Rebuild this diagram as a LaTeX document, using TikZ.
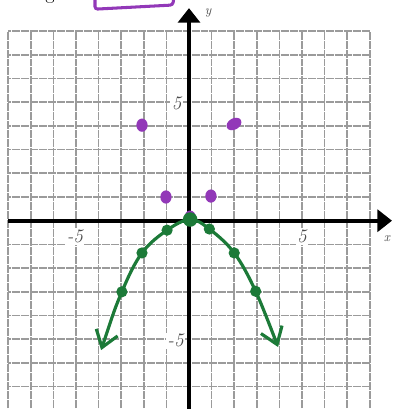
\documentclass[tikz,border=0pt]{standalone}
\usepackage{tikz}
\usetikzlibrary{arrows.meta,shapes.geometric}
\definecolor{HandPurple}{RGB}{146,56,184}
\definecolor{HandGreen}{RGB}{28,122,56}
\definecolor{GridGray}{RGB}{155,155,155}

\begin{document}
\begin{tikzpicture}[
    x=0.6cm, y=0.6292cm,
    gridline/.style={draw=GridGray, line width=1.3pt, dash pattern=on 0.45pt off 0.4pt},
    axis/.style={line width=3pt, -{Triangle[width=16.5pt, length=11pt]}},
    tick/.style={fill=white, inner sep=1pt, font=\Large\itshape, text=black!70},
    axlabel/.style={font=\itshape, text=black!70},
    pdot/.style={ellipse, fill=HandPurple, minimum width=8.5pt, minimum height=10pt, inner sep=0pt},
    gdot/.style={circle, fill=HandGreen, minimum size=8.5pt, inner sep=0pt},
    curve/.style={draw=HandGreen, line width=2.4pt, line cap=round, {Straight Barb[length=12pt, width=17pt]}-{Straight Barb[length=12pt, width=17pt]}}
]
    \useasboundingbox (-8.363,-7.945) rectangle (8.982,9.312);
    \clip (-8.363,-7.945) rectangle (8.982,9.312);

    % cut off heading
    \node[font=\Large, anchor=base] (gtext) at (-6.15,9.354) {g};
    \draw[HandPurple, line width=2.3pt, rounded corners=2pt] (-4.16,9.7) -- (-4.16,8.925) -- (-0.72,9.10) -- (-0.62,9.7);

    \draw[gridline, step=1] (-8,-8) grid (8,8);

    % axes
    \coordinate (xstart) at (-8,0);
    \coordinate (xend) at (8.982,0);
    \coordinate (ystart) at (0,-8.2);
    \coordinate (yend) at (0,8.97);
    \draw[axis] (xstart) -- (xend);
    \draw[axis] (ystart) -- (yend);

    \node[axlabel] (xlab) at (8.76,-0.75) {x};
    \node[axlabel] (ylab) at (0.84,8.76) {y};
    \node[tick] (xm5) at (-5.05,-0.68) {-5};
    \node[tick] (xp5) at (5,-0.68) {5};
    \node[tick] (yp5) at (-0.55,4.97) {5};
    \node[tick] (ym5) at (-0.6,-5.07) {-5};

    % purple points
    \node[pdot] (pm2) at (-2.08,4.03) {};
    \node[pdot, minimum width=12pt, minimum height=8.5pt, rotate=30] (pp2) at (1.99,4.08) {};
    \node[pdot] (pm1) at (-1.02,1.0) {};
    \node[pdot] (pp1) at (0.97,1.04) {};
    \node[pdot] (p0) at (0.05,0.15) {};

    % green curve
    \coordinate (ltip) at (-3.89,-5.46);
    \coordinate (gm3) at (-2.97,-3.0);
    \coordinate (gm2) at (-2.08,-1.36);
    \coordinate (gm1) at (-0.97,-0.4);
    \coordinate (g0) at (0.05,0.05);
    \coordinate (gp1) at (0.9,-0.35);
    \coordinate (gp2) at (2.0,-1.36);
    \coordinate (gp3) at (2.95,-2.98);
    \coordinate (rtip) at (3.94,-5.33);
    \draw[curve] plot[smooth, tension=0.6] coordinates {(ltip) (gm3) (gm2) (gm1) (g0) (gp1) (gp2) (gp3) (rtip)};
    \foreach \n in {m3,m2,m1,p1,p2,p3}
        \node[gdot] (d\n) at (g\n) {};
    \node[gdot, minimum size=11pt] (d0) at (g0) {};
\end{tikzpicture}
\end{document}
